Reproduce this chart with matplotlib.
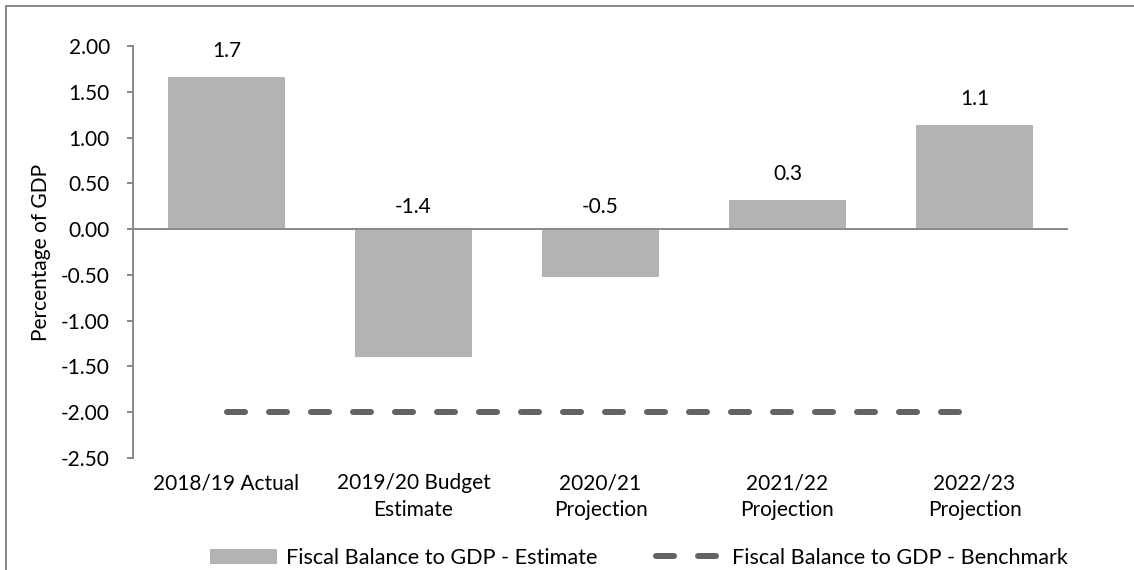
import matplotlib
matplotlib.use("Agg")
import matplotlib.pyplot as plt
from matplotlib.patches import Rectangle
from matplotlib.lines import Line2D
from matplotlib.patches import Patch

# Data
categories = ["2018/19 Actual", "2019/20 Budget\nEstimate", "2020/21\nProjection",
              "2021/22\nProjection", "2022/23\nProjection"]
estimate = [1.66, -1.40, -0.52, 0.32, 1.14]
benchmark = [-2.0, -2.0, -2.0, -2.0, -2.0]
y_ticks = [2.0, 1.5, 1.0, 0.5, 0.0, -0.5, -1.0, -1.5, -2.0, -2.5]

plt.rcParams["font.family"] = ["Lato", "DejaVu Sans"]
plt.rcParams["lines.scale_dashes"] = False

W, H, DPI = 1134, 570, 100
fig = plt.figure(figsize=(W / DPI, H / DPI), dpi=DPI)
px = 72.0 / DPI  # points per pixel

ax = fig.add_axes([133 / W, 1 - 458 / H, (1068 - 133) / W, (458 - 46) / H])

FS = 15
bar_color = "#b3b3b3"
axis_color = "#8c8c8c"
line_color = "#636363"

x = list(range(len(categories)))
ax.bar(x, estimate, width=0.63, color=bar_color, zorder=2)

ax.plot(x, benchmark, color=line_color, linewidth=6 * px, dashes=(18 * px, 24 * px),
        dash_capstyle="round", solid_capstyle="round", zorder=3)

# Value labels
for xi, v in zip(x, estimate):
    base = max(v, 0)
    off = 26 if v >= 0 else 22
    ax.annotate(f"{v:.1f}", (xi, base), xytext=(0, off * px), textcoords="offset points",
                ha="center", va="center", fontsize=FS, color="#000000")

ax.set_xlim(-0.5, len(categories) - 0.5)
ax.set_ylim(-2.5, 2.0)
ax.set_yticks(y_ticks)
ax.set_yticklabels([f"{t:.2f}" for t in y_ticks])
ax.set_xticks(x)
ax.set_xticklabels(categories, linespacing=1.45)

ax.axhline(0, color=axis_color, linewidth=2 * px, zorder=4)

for s in ["top", "right", "bottom"]:
    ax.spines[s].set_visible(False)
ax.spines["left"].set_color(axis_color)
ax.spines["left"].set_linewidth(2 * px)

ax.tick_params(axis="y", length=6 * px, width=2 * px, color=axis_color, pad=17 * px,
               labelsize=FS, labelcolor="#000000")
ax.tick_params(axis="x", length=0, pad=15 * px, labelsize=FS, labelcolor="#000000")

ax.set_ylabel("Percentage of GDP", fontsize=FS, color="#000000")
ax.yaxis.set_label_coords(-(133 - 41) / (1068 - 133), 0.5)
ax.yaxis.label.set_va("center")

# Legend
handles = [Patch(facecolor=bar_color, edgecolor="none"),
           Line2D([], [], color=line_color, linewidth=6 * px, dashes=(18 * px, 24 * px),
                  dash_capstyle="round")]
labels = ["Fiscal Balance to GDP - Estimate", "Fiscal Balance to GDP - Benchmark"]
fig.legend(handles, labels, loc="center", bbox_to_anchor=(639 / W, 12 / H), ncol=2,
           frameon=False, fontsize=15.6, handlelength=3.1, handleheight=0.68,
           handletextpad=0.4, columnspacing=2.7, borderaxespad=0, borderpad=0)

# Outer chart border
fig.patches.append(Rectangle((6 / W, -0.5), 2.0, 1.5 - 6 / H, transform=fig.transFigure,
                             fill=False, edgecolor="#8a8a8a", linewidth=2 * px))

fig.savefig("out.png", dpi=DPI, facecolor="white")
